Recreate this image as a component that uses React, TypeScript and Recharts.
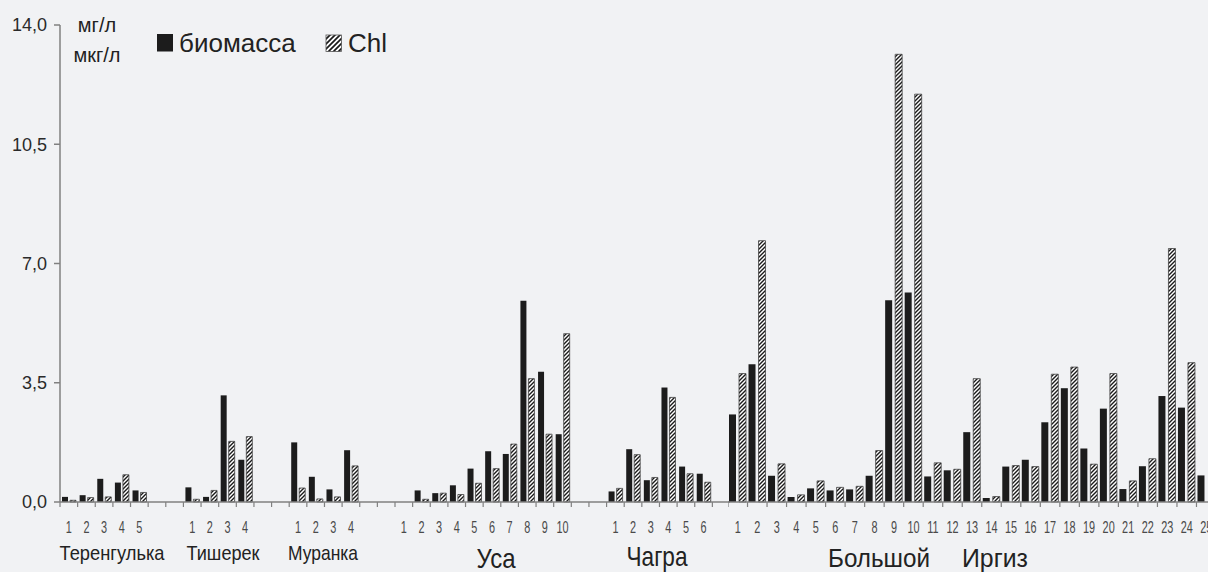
import { BarChart, Bar, XAxis, YAxis } from 'recharts'

// значения по рекам (мг/л для биомассы, мкг/л для хлорофилла)
const terengulkaBio = [0.15, 0.2, 0.68, 0.57, 0.34]
const terengulkaChl = [0.05, 0.13, 0.15, 0.8, 0.28]
const tisherekBio = [0.43, 0.15, 3.13, 1.24]
const tisherekChl = [0.08, 0.34, 1.78, 1.92]
const murankaBio = [1.75, 0.74, 0.37, 1.52]
const murankaChl = [0.41, 0.09, 0.15, 1.06]
const usaBio = [0, 0.34, 0.26, 0.49, 0.98, 1.49, 1.41, 5.91, 3.82, 1.99]
const usaChl = [0, 0.08, 0.26, 0.22, 0.55, 0.98, 1.7, 3.62, 1.99, 4.94]
const chagraBio = [0.31, 1.55, 0.64, 3.36, 1.04, 0.83]
const chagraChl = [0.4, 1.39, 0.72, 3.07, 0.83, 0.58]
const irgizBio = [
  2.57, 4.04, 0.77, 0.15, 0.4, 0.34, 0.37, 0.77, 5.92, 6.15, 0.75, 0.93, 2.05,
  0.12, 1.04, 1.24, 2.34, 3.34, 1.57, 2.74, 0.38, 1.05, 3.11, 2.77, 0.78,
]
const irgizChl = [
  3.77, 7.67, 1.12, 0.21, 0.62, 0.43, 0.46, 1.51, 13.14, 11.97, 1.15, 0.96, 3.62,
  0.16, 1.07, 1.04, 3.75, 3.96, 1.11, 3.77, 0.62, 1.27, 7.44, 4.09, null,
]

const yTicks = [0, 3.5, 7, 10.5, 14]
const seriesNames = ['биомасса', 'Chl']

type Row = { label: string; bio: number | null; chl: number | null }

// река + число пустых мест после неё
const leftGroups: Array<[number[], (number | null)[], number]> = [
  [terengulkaBio, terengulkaChl, 2],
  [tisherekBio, tisherekChl, 2],
  [murankaBio, murankaChl, 2],
  [usaBio, usaChl, 2],
  [chagraBio, chagraChl, 1],
]

const leftData: Row[] = []
leftGroups.forEach(([bio, chl, gap]) => {
  bio.forEach((v, i) => leftData.push({ label: String(i + 1), bio: v, chl: chl[i] }))
  for (let g = 0; g < gap; g++) leftData.push({ label: '', bio: null, chl: null })
})

const rightData: Row[] = irgizBio.map((v, i) => ({ label: String(i + 1), bio: v, chl: irgizChl[i] }))

const AXIS = '#808080'
const INK = '#1c1c1c'
const SANS = "'Liberation Sans', Arial, sans-serif"

const makeTick = (bw: number) => (props: any) => {
  const { x, y, payload } = props
  return (
    <g>
      <line x1={x - bw / 2} x2={x - bw / 2} y1={y - 8} y2={y - 3} stroke={AXIS} strokeWidth={1.2} />
      <text
        transform={`translate(${x},${y + 22.5}) scale(0.68,1)`}
        textAnchor="middle"
        fontSize={16}
        fill="#4a4a4a"
        fontFamily={SANS}
      >
        {payload.value}
      </text>
    </g>
  )
}

const fmt = (v: number) => v.toFixed(1).replace('.', ',')

export default function App() {
  return (
    <div
      style={{
        position: 'absolute',
        left: 0,
        top: 0,
        width: 1208,
        height: 572,
        background: '#f1f2f4',
        overflow: 'hidden',
      }}
    >
      <svg width={0} height={0} style={{ position: 'absolute' }}>
        <defs>
          <pattern id="hatch" patternUnits="userSpaceOnUse" width={4} height={4}>
            <rect width={4} height={4} fill="#ffffff" />
            <path d="M0,4 L4,0 M-1,1 L1,-1 M3,5 L5,3" stroke="#1a1a1a" strokeWidth={1.4} />
          </pattern>
          <pattern id="hatchBig" patternUnits="userSpaceOnUse" width={5} height={5}>
            <rect width={5} height={5} fill="#ffffff" />
            <path d="M0,5 L5,0 M-1,1 L1,-1 M4,6 L6,4" stroke="#1a1a1a" strokeWidth={1.7} />
          </pattern>
        </defs>
      </svg>

      <div style={{ position: 'absolute', left: 0, top: 0 }}>
        <BarChart
          width={730}
          height={572}
          data={leftData}
          margin={{ top: 25, right: 0, bottom: 40, left: 0 }}
          barSize={6}
          barGap={2}
        >
          <XAxis
            dataKey="label"
            height={30}
            interval={0}
            stroke={AXIS}
            strokeWidth={1.5}
            tickLine={false}
            tick={makeTick(670 / leftData.length)}
          />
          <YAxis
            width={60}
            domain={[0, 14]}
            ticks={yTicks}
            tickFormatter={fmt}
            stroke={AXIS}
            strokeWidth={1.5}
            tickMargin={7}
            tick={{ fill: '#2a2a2a', fontSize: 18, fontFamily: SANS }}
          />
          <Bar dataKey="bio" fill={INK} isAnimationActive={false} />
          <Bar dataKey="chl" fill="url(#hatch)" stroke="#444" strokeWidth={0.8} isAnimationActive={false} />
        </BarChart>
      </div>

      <div style={{ position: 'absolute', left: 728, top: 0 }}>
        <BarChart
          width={488}
          height={572}
          data={rightData}
          margin={{ top: 25, right: 0, bottom: 40, left: 0 }}
          barSize={7}
          barGap={3}
        >
          <XAxis
            dataKey="label"
            height={30}
            interval={0}
            stroke={AXIS}
            strokeWidth={1.5}
            tickLine={false}
            tick={makeTick(488 / rightData.length)}
          />
          <YAxis hide domain={[0, 14]} ticks={yTicks} />
          <Bar dataKey="bio" fill={INK} isAnimationActive={false} />
          <Bar dataKey="chl" fill="url(#hatch)" stroke="#444" strokeWidth={0.8} isAnimationActive={false} />
        </BarChart>
      </div>

      <svg
        width={1208}
        height={572}
        style={{ position: 'absolute', left: 0, top: 0, pointerEvents: 'none' }}
      >
        <g fontFamily={SANS} fill="#222">
          <text x={97} y={32} fontSize={20} textAnchor="middle">мг/л</text>
          <text x={97} y={61.5} fontSize={20} textAnchor="middle">мкг/л</text>
          <rect x={157} y={34} width={16} height={17.5} fill={INK} />
          <text x={179} y={51.5} fontSize={26}>{seriesNames[0]}</text>
          <rect x={326} y={35} width={15.5} height={16.5} fill="url(#hatchBig)" stroke="#555" strokeWidth={0.8} />
          <text x={348} y={51.5} fontSize={26}>{seriesNames[1]}</text>
        </g>
        <g fontFamily={SANS} fill="#222" textAnchor="middle" lengthAdjust="spacingAndGlyphs">
          <text x={112} y={560} fontSize={21} textLength={105} lengthAdjust="spacingAndGlyphs">Теренгулька</text>
          <text x={223} y={560} fontSize={21} textLength={73} lengthAdjust="spacingAndGlyphs">Тишерек</text>
          <text x={323} y={560} fontSize={21} textLength={70} lengthAdjust="spacingAndGlyphs">Муранка</text>
          <text x={496} y={568} fontSize={28} textLength={39} lengthAdjust="spacingAndGlyphs">Уса</text>
          <text x={657} y={566} fontSize={28} textLength={61} lengthAdjust="spacingAndGlyphs">Чагра</text>
          <text x={879} y={567} fontSize={26} textLength={102} lengthAdjust="spacingAndGlyphs">Большой</text>
          <text x={995} y={567} fontSize={26} textLength={66} lengthAdjust="spacingAndGlyphs">Иргиз</text>
        </g>
      </svg>
    </div>
  )
}
